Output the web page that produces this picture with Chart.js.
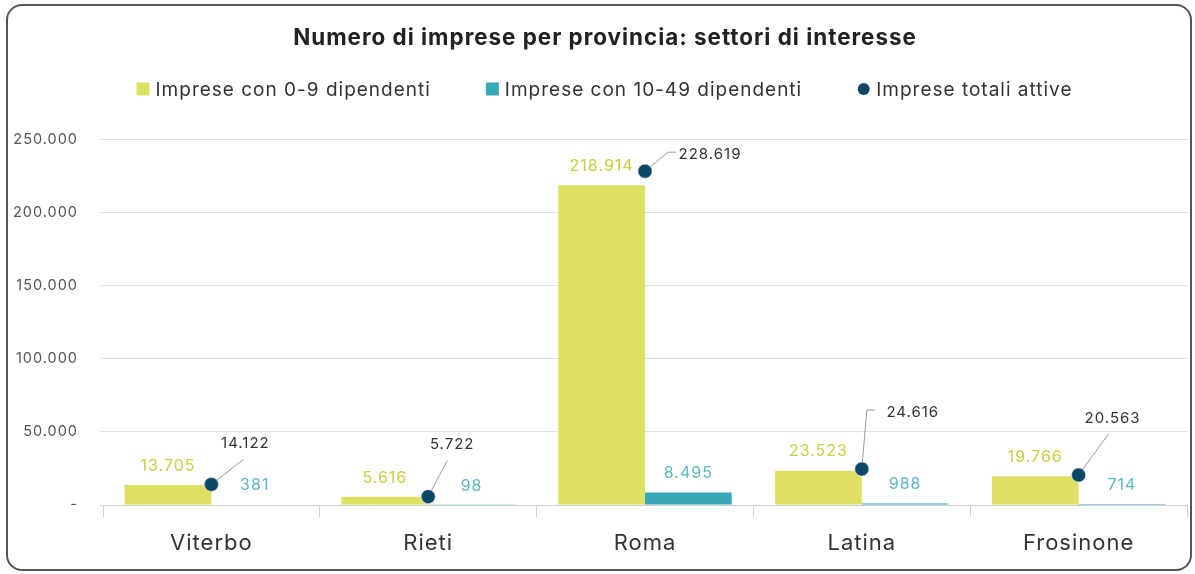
<!DOCTYPE html>
<html>
<head>
<meta charset="utf-8">
<script src="https://cdn.jsdelivr.net/npm/chart.js@4"></script>
<style>
  html, body { margin: 0; padding: 0; background: #fff; }
  #wrap { position: relative; width: 1195px; height: 574px; overflow: hidden; }
  #card { position: absolute; left: 6px; top: 4px; width: 1182px; height: 563px;
          border: 2px solid #555; border-radius: 16px; box-sizing: content-box; }
  #c { position: absolute; left: 0; top: 0; }
</style>
</head>
<body>
<div id="wrap">
  <div id="card"></div>
  <canvas id="c" width="1195" height="574"></canvas>
</div>
<script>
const categories = ['Viterbo', 'Rieti', 'Roma', 'Latina', 'Frosinone'];
const micro = [13705, 5616, 218914, 23523, 19766];
const small = [381, 98, 8495, 988, 714];
const totals = [14122, 5722, 228619, 24616, 20563];
const seriesNames = ['Imprese con 0-9 dipendenti', 'Imprese con 10-49 dipendenti', 'Imprese totali attive'];
const yTicks = [0, 50000, 100000, 150000, 200000, 250000];

// styling: offsets of the total labels relative to their point [labelDx, labelDy, elbowDx, elbowDy, tailDx]
const totalLabelOffsets = [
  [34, -41, 32, -25, null],
  [24, -52, 19, -36, null],
  [65, -17, 23, -19, 31],
  [51, -57, 5, -59, 13],
  [34, -56, 30, -41, null]
];

const FONT = 'Inter, "Open Sans", sans-serif';
const C_YEL = '#dde062', C_YEL_T = '#c9cd3e';
const C_TEAL = '#36a7b5', C_TEAL_T = '#5cb9c4';
const C_NAVY = '#0d4767';

function fmt(n) {
  if (n === 0) return '-';
  return String(n).replace(/\B(?=(\d{3})+(?!\d))/g, '.');
}

const spacingPlugin = {
  id: 'spacing',
  beforeLayout(chart) { chart.ctx.letterSpacing = '1px'; },
  afterLayout(chart) { if (chart.titleBlock) chart.titleBlock.left = 21; },
  beforeDraw(chart) { chart.ctx.letterSpacing = '1px'; }
};

const labelPlugin = {
  id: 'valueLabels',
  afterDatasetsDraw(chart) {
    const ctx = chart.ctx;
    ctx.save();
    ctx.letterSpacing = '1px';
    ctx.font = '16px ' + FONT;
    ctx.textAlign = 'center';
    ctx.textBaseline = 'middle';
    [0, 1].forEach(di => {
      const meta = chart.getDatasetMeta(di);
      ctx.fillStyle = di === 0 ? C_YEL_T : C_TEAL_T;
      meta.data.forEach((el, i) => {
        ctx.fillText(fmt(chart.data.datasets[di].data[i]), el.x, el.y - 19);
      });
    });
    const meta = chart.getDatasetMeta(2);
    meta.data.forEach((el, i) => {
      const o = totalLabelOffsets[i];
      ctx.strokeStyle = '#9a9a9a';
      ctx.lineWidth = 1;
      ctx.beginPath();
      ctx.moveTo(el.x, el.y);
      ctx.lineTo(el.x + o[2], el.y + o[3]);
      if (o[4] !== null) ctx.lineTo(el.x + o[4], el.y + o[3]);
      ctx.stroke();
    });
    meta.data.forEach((el) => el.draw(ctx, chart.chartArea));
    ctx.font = '15px ' + FONT;
    ctx.fillStyle = '#333';
    meta.data.forEach((el, i) => {
      const o = totalLabelOffsets[i];
      ctx.fillText(fmt(chart.data.datasets[2].data[i]), el.x + o[0], el.y + o[1]);
    });
    ctx.restore();
  }
};

const legendPlugin = {
  id: 'customLegend',
  afterDraw(chart) {
    const ctx = chart.ctx;
    ctx.save();
    ctx.letterSpacing = '1px';
    ctx.font = '19px ' + FONT;
    ctx.textBaseline = 'middle';
    ctx.textAlign = 'left';
    const y = 89, box = 13, gapBoxText = 6, gapItems = 55;
    const ds = chart.data.datasets;
    const widths = ds.map(d => box + gapBoxText + ctx.measureText(d.label).width);
    const total = widths.reduce((a, b) => a + b, 0) + gapItems * (ds.length - 1);
    let x = (chart.width - total) / 2 + 7;
    ds.forEach((d, i) => {
      if (d.type === 'line') {
        ctx.fillStyle = d.pointBackgroundColor;
        ctx.beginPath();
        ctx.arc(x + box / 2, y, 6, 0, Math.PI * 2);
        ctx.fill();
      } else {
        ctx.fillStyle = d.backgroundColor;
        ctx.fillRect(x, y - box / 2, box, box);
      }
      ctx.fillStyle = '#333';
      ctx.fillText(d.label, x + box + gapBoxText, y + 1);
      x += widths[i] + gapItems;
    });
    ctx.restore();
  }
};

new Chart(document.getElementById('c'), {
  type: 'bar',
  data: {
    labels: categories,
    datasets: [
      { label: seriesNames[0], data: micro, backgroundColor: C_YEL, order: 2,
        categoryPercentage: 0.8, barPercentage: 1.0 },
      { label: seriesNames[1], data: small, backgroundColor: C_TEAL, order: 2,
        categoryPercentage: 0.8, barPercentage: 1.0 },
      { label: seriesNames[2], data: totals, type: 'line', showLine: false, order: 1,
        pointRadius: 7, pointHoverRadius: 7, pointBackgroundColor: C_NAVY,
        pointBorderColor: 'rgba(255,255,255,0.5)', pointBorderWidth: 1,
        borderColor: C_NAVY, backgroundColor: C_NAVY }
    ]
  },
  options: {
    responsive: false,
    animation: false,
    events: [],
    layout: { padding: { left: 0, right: 6, top: 0, bottom: 0 } },
    plugins: {
      legend: { display: false },
      tooltip: { enabled: false },
      title: {
        display: true,
        text: 'Numero di imprese per provincia: settori di interesse',
        color: '#222',
        font: { family: FONT, size: 22.4, weight: 'bold', lineHeight: 1.2 },
        padding: { top: 25, bottom: 88.1 }
      }
    },
    scales: {
      x: {
        grid: { display: true, drawOnChartArea: false, drawTicks: true, tickLength: 12,
                color: '#d0d0d0', offset: true },
        border: { display: true, color: '#cfcfcf' },
        ticks: { color: '#333', font: { family: FONT, size: 22 }, padding: 13 },
        afterFit(s) { s.height = 69; }
      },
      y: {
        min: 0, max: 250000,
        afterBuildTicks(s) { s.ticks = yTicks.map(v => ({ value: v })); },
        grid: { color: '#e0e0e0', drawTicks: true, tickLength: 3 },
        border: { display: false },
        ticks: { color: '#555', font: { family: FONT, size: 14.5 }, padding: 22,
                 callback: v => fmt(v) },
        afterFit(s) { s.width = 103; }
      }
    }
  },
  plugins: [spacingPlugin, labelPlugin, legendPlugin]
});
</script>
</body>
</html>
